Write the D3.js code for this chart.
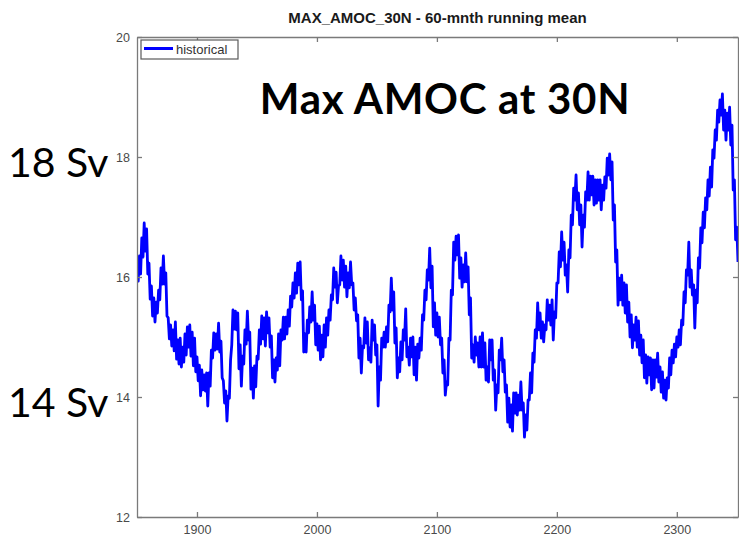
<!DOCTYPE html>
<html>
<head>
<meta charset="utf-8">
<script src="https://cdn.jsdelivr.net/npm/d3@7"></script>
<style>
  body { margin: 0; background: #fff; }
  svg { display: block; }
</style>
</head>
<body>
<svg id="chart" width="739" height="538"></svg>
<script>
// Maximum AMOC strength at 30N (Sv), 60-month running mean, one value per year from 1850
const startYear = 1850;
const yearStep = 1;
const amocValues = [
  16.23, 15.93, 16.35, 16.05, 16.65, 16.33, 16.90, 16.43, 16.80, 16.05,
  16.23, 15.63, 15.85, 15.35, 15.65, 15.25, 15.58, 15.40, 15.78, 15.62,
  16.15, 15.88, 16.35, 15.88, 16.07, 15.35, 15.32, 14.97, 15.20, 14.85,
  15.12, 14.77, 15.25, 14.63, 14.95, 14.55, 14.98, 14.50, 14.83, 14.58,
  15.05, 14.70, 15.17, 14.83, 15.20, 14.68, 15.08, 14.52, 14.98, 14.42,
  14.67, 14.27, 14.53, 14.02, 14.45, 14.12, 14.37, 14.10, 14.40, 13.85,
  14.40, 14.18, 14.78, 14.65, 15.07, 14.78, 15.05, 14.80, 15.23, 14.75,
  14.93, 14.32, 14.27, 13.90, 14.10, 13.60, 14.02, 13.98, 14.62, 14.87,
  15.45, 15.13, 15.43, 15.12, 15.40, 14.47, 14.87, 14.18, 14.68, 14.55,
  15.12, 14.88, 15.43, 14.95, 15.08, 14.13, 14.48, 13.98, 14.52, 14.17,
  14.68, 14.63, 15.12, 14.88, 15.35, 14.97, 15.32, 14.85, 15.42, 15.07,
  15.32, 14.83, 15.02, 14.32, 14.62, 14.25, 14.65, 14.45, 15.05, 14.52,
  15.12, 14.95, 15.33, 14.97, 15.33, 15.05, 15.45, 15.18, 15.68, 15.50,
  15.90, 15.65, 16.07, 15.73, 16.23, 15.87, 16.25, 15.62, 15.77, 14.75,
  15.05, 14.75, 15.28, 15.07, 15.50, 15.25, 15.75, 15.28, 15.53, 14.87,
  15.22, 14.78, 15.18, 14.62, 15.03, 14.67, 15.20, 14.83, 15.32, 15.03,
  15.45, 15.28, 15.70, 15.62, 16.15, 15.83, 16.08, 15.57, 15.85, 15.87,
  16.35, 15.95, 16.28, 15.83, 16.18, 15.67, 16.07, 15.82, 16.25, 15.87,
  15.90, 15.45, 15.65, 15.27, 15.37, 14.65, 14.98, 14.40, 14.85, 14.82,
  15.32, 14.90, 15.25, 14.62, 14.82, 14.58, 15.28, 14.95, 15.20, 14.70,
  14.87, 13.85, 14.50, 14.28, 14.98, 14.83, 15.08, 14.83, 15.17, 14.92,
  15.53, 15.42, 15.98, 15.45, 15.75, 14.90, 15.15, 14.32, 14.65, 14.42,
  14.92, 14.62, 15.12, 14.95, 15.47, 14.67, 14.83, 14.53, 14.98, 14.67,
  15.00, 14.37, 14.83, 14.28, 14.88, 14.65, 14.98, 14.78, 15.37, 15.28,
  15.78, 15.62, 16.12, 15.95, 16.48, 15.82, 16.18, 15.17, 15.57, 15.03,
  15.40, 15.00, 15.33, 14.87, 14.98, 14.40, 14.62, 14.03, 14.25, 14.20,
  14.98, 14.95, 15.78, 15.70, 16.58, 16.28, 16.68, 16.37, 16.70, 15.98,
  16.32, 15.83, 16.20, 15.92, 16.40, 15.92, 16.17, 15.37, 15.65, 14.65,
  14.87, 14.58, 15.00, 14.70, 14.90, 14.50, 15.00, 14.50, 15.07, 14.50,
  14.90, 14.28, 14.50, 14.25, 14.95, 14.62, 14.95, 14.28, 14.45, 13.78,
  14.20, 14.07, 14.78, 14.62, 14.98, 14.42, 14.62, 14.08, 14.20, 13.58,
  13.98, 13.50, 13.87, 13.43, 14.07, 13.73, 14.07, 13.70, 14.03, 13.78,
  14.25, 13.78, 13.90, 13.33, 13.70, 13.45, 13.95, 13.95, 14.40, 14.07,
  14.73, 14.58, 15.12, 14.98, 15.57, 15.12, 15.40, 14.98, 15.25, 14.92,
  15.20, 15.12, 15.62, 15.28, 15.53, 15.20, 15.62, 14.95, 15.42, 15.32,
  15.90, 15.90, 16.42, 16.17, 16.75, 16.28, 16.58, 16.03, 16.20, 15.75,
  16.45, 16.32, 17.03, 16.87, 17.48, 17.28, 17.70, 17.12, 17.40, 16.87,
  17.20, 16.50, 17.03, 16.83, 17.42, 17.28, 17.75, 17.28, 17.68, 17.37,
  17.68, 17.20, 17.62, 17.23, 17.62, 17.28, 17.62, 17.12, 17.53, 17.28,
  17.67, 17.48, 17.98, 17.70, 18.05, 17.62, 17.92, 16.95, 17.20, 16.25,
  16.45, 15.53, 15.98, 15.62, 16.03, 15.53, 15.90, 15.40, 15.87, 15.25,
  15.58, 15.00, 15.37, 14.82, 15.20, 14.95, 15.33, 14.83, 15.27, 14.70,
  15.03, 14.57, 14.95, 14.32, 14.70, 14.23, 14.67, 14.37, 14.65, 14.12,
  14.62, 14.15, 14.62, 14.33, 14.73, 14.25, 14.50, 14.08, 14.42, 13.98,
  14.28, 13.95, 14.32, 14.15, 14.65, 14.37, 14.78, 14.57, 14.88, 14.67,
  15.00, 14.83, 15.12, 14.87, 15.28, 15.20, 15.75, 15.57, 16.12, 16.03,
  16.58, 15.83, 16.12, 15.70, 15.87, 15.15, 15.78, 15.57, 16.32, 16.15,
  16.82, 16.57, 17.08, 16.82, 17.32, 17.12, 17.62, 17.35, 17.83, 17.50,
  18.12, 17.98, 18.45, 18.28, 18.78, 18.58, 18.95, 18.70, 19.05, 18.45,
  18.78, 18.28, 18.73, 18.45, 18.83, 18.20, 18.53, 17.45, 17.62, 16.62,
  16.83, 16.25
];
const xDomain = [1850, 2351];
const yDomain = [12, 20];
const xTicks = [1900, 2000, 2100, 2200, 2300];
const yTicks = [12, 14, 16, 18, 20];
const seriesName = "historical";
const chartTitle = "MAX_AMOC_30N - 60-mnth running mean";
const headline = "Max AMOC at 30N";
const sideLabels = [
  { text: "18 Sv", value: 18 },
  { text: "14 Sv", value: 14 }
];

const series = amocValues.map((v, i) => ({ year: startYear + i * yearStep, value: v }));

const svg = d3.select("#chart");
const plot = { left: 137, right: 738, top: 37, bottom: 517 };

const x = d3.scaleLinear().domain(xDomain).range([plot.left, plot.right]);
const y = d3.scaleLinear().domain(yDomain).range([plot.bottom, plot.top]);

const axisColor = "#7a7a7a";
const labelColor = "#4a4a4a";
const tickFont = "'Liberation Sans', Arial, Helvetica, sans-serif";

svg.append("defs").append("clipPath").attr("id", "plot-clip")
  .append("rect")
  .attr("x", plot.left).attr("y", plot.top)
  .attr("width", plot.right - plot.left).attr("height", plot.bottom - plot.top);

// Data line
const line = d3.line().x(d => x(d.year)).y(d => y(d.value));
svg.append("path")
  .datum(series)
  .attr("clip-path", "url(#plot-clip)")
  .attr("fill", "none")
  .attr("stroke", "#0000ff")
  .attr("stroke-width", 2.8)
  .attr("stroke-linejoin", "round")
  .attr("d", line);

function styleAxis(g) {
  g.selectAll(".domain").attr("stroke", axisColor).attr("stroke-width", 1.3);
  g.selectAll(".tick line").attr("stroke", axisColor).attr("stroke-width", 1.3);
  g.selectAll(".tick text")
    .attr("fill", labelColor)
    .style("font-family", tickFont)
    .style("font-size", "12.5px");
}

// Box axes with inward ticks
svg.append("g")
  .attr("transform", `translate(0,${plot.bottom})`)
  .call(d3.axisBottom(x).tickValues(xTicks).tickFormat(d3.format("d"))
    .tickSizeInner(-5).tickSizeOuter(0).tickPadding(8))
  .call(styleAxis);

svg.append("g")
  .attr("transform", `translate(0,${plot.top})`)
  .call(d3.axisTop(x).tickValues(xTicks).tickFormat("")
    .tickSizeInner(-5).tickSizeOuter(0))
  .call(styleAxis);

svg.append("g")
  .attr("transform", `translate(${plot.left},0)`)
  .call(d3.axisLeft(y).tickValues(yTicks).tickFormat(d3.format("d"))
    .tickSizeInner(-5).tickSizeOuter(0).tickPadding(7))
  .call(styleAxis);

svg.append("g")
  .attr("transform", `translate(${plot.right},0)`)
  .call(d3.axisRight(y).tickValues(yTicks).tickFormat("")
    .tickSizeInner(-5).tickSizeOuter(0))
  .call(styleAxis);

// Title
svg.append("text")
  .attr("x", (plot.left + plot.right) / 2)
  .attr("y", 23)
  .attr("text-anchor", "middle")
  .attr("fill", "#1a1a1a")
  .style("font-family", tickFont)
  .style("font-size", "15px")
  .style("font-weight", "bold")
  .text(chartTitle);

// Legend
const legend = svg.append("g").attr("transform", `translate(${plot.left + 4},${plot.top + 3})`);
legend.append("rect")
  .attr("x", 0).attr("y", 0).attr("width", 97).attr("height", 19)
  .attr("fill", "#fff").attr("stroke", "#5a5a5a").attr("stroke-width", 1.2);
legend.append("line")
  .attr("x1", 3).attr("x2", 32).attr("y1", 8.5).attr("y2", 8.5)
  .attr("stroke", "#0000ff").attr("stroke-width", 3);
legend.append("text")
  .attr("x", 35).attr("y", 14)
  .attr("fill", "#333")
  .style("font-family", tickFont)
  .style("font-size", "13px")
  .text(seriesName);

// Slide annotations
const annoFont = "Lato, 'Open Sans', sans-serif";
svg.append("text")
  .attr("x", 445).attr("y", 114)
  .attr("text-anchor", "middle")
  .attr("fill", "#000")
  .style("font-family", annoFont)
  .style("font-size", "42px")
  .style("font-weight", "bold")
  .style("letter-spacing", "0.7px")
  .text(headline);

svg.selectAll("text.side")
  .data(sideLabels)
  .enter().append("text")
  .attr("class", "side")
  .attr("x", 8)
  .attr("y", d => y(d.value) + 20)
  .attr("fill", "#000")
  .style("font-family", annoFont)
  .style("font-size", "41px")
  .text(d => d.text);
</script>
</body>
</html>
